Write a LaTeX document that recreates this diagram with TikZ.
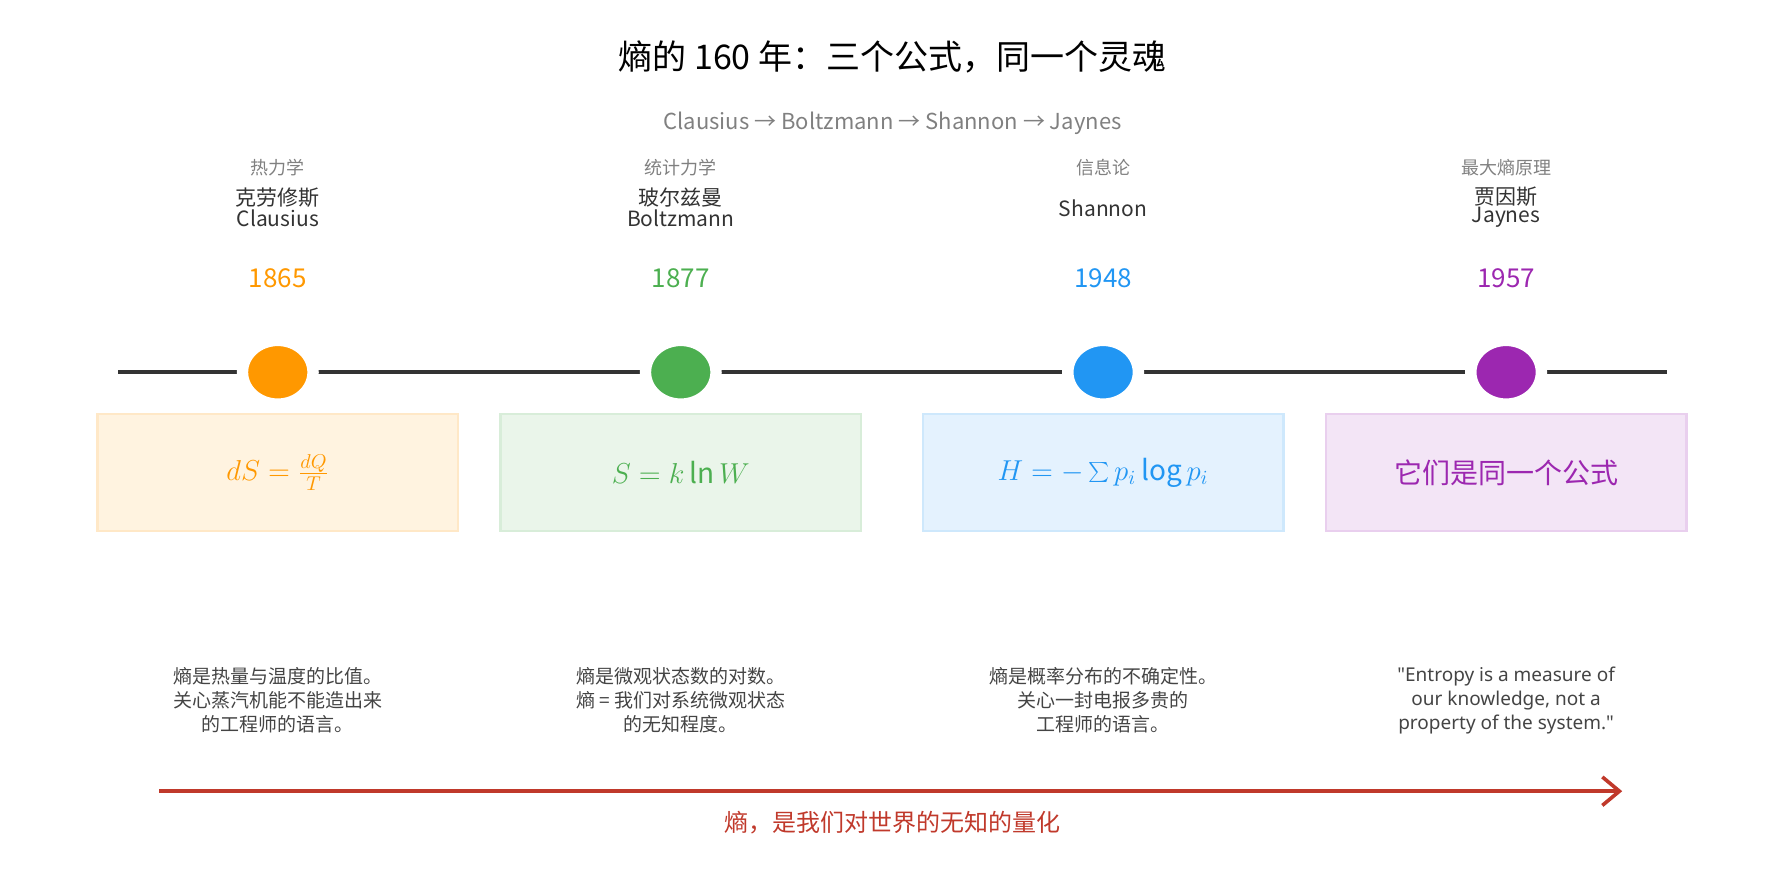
\documentclass[tikz,border=0pt]{standalone}
\usepackage{fontspec}
\setmainfont{Noto Sans CJK SC}
\newfontfamily\quotefont{Noto Sans}
\usetikzlibrary{positioning, shapes.geometric, arrows.meta}
\definecolor{thermo}{HTML}{FF9800}
\definecolor{stat}{HTML}{4CAF50}
\definecolor{info}{HTML}{2196F3}
\definecolor{maxent}{HTML}{9C27B0}
\definecolor{axis}{HTML}{333333}
\definecolor{note}{HTML}{444444}
\definecolor{arrowred}{HTML}{C0392B}
\begin{document}
\begin{tikzpicture}[x=0.02cm, y=-0.02cm]
    \tikzset{
      era/.style={font=\fontsize{9}{10}\selectfont, text=gray},
      who/.style={font=\fontsize{10.5}{9}\selectfont, text=axis, align=center},
      year/.style={font=\fontsize{13}{14}\selectfont},
      dot/.style={ellipse, minimum width=1.24cm, minimum height=1.12cm, inner sep=0pt, draw=white, line width=5.7pt},
      card/.style={rectangle, minimum width=6.34cm, minimum height=2.06cm, line width=1.2pt},
      blurb/.style={font=\fontsize{9.5}{12}\selectfont, text=note, align=center},
    }
    \useasboundingbox (0,0) rectangle (1568,777);
    \node (title) at (784,50) {\fontsize{17}{20}\selectfont 熵的 160 年：三个公式，同一个灵魂};
    \node (sub) at (784,108) [text=gray, font=\fontsize{11}{12}\selectfont] {Clausius → Boltzmann → Shannon → Jaynes};
    \coordinate (L) at (104,327);
    \coordinate (R) at (1464,327);
    \draw [axis, line width=2pt] (L) -- (R);
    \foreach \i/\x/\c/\cat/\who/\yr/\f/\d in {
        1/244/thermo/热力学/{克劳修斯\\Clausius}/1865/{$dS=\frac{dQ}{T}$}/{熵是热量与温度的比值。\\关心蒸汽机能不能造出来\\的工程师的语言。},
        2/598/stat/统计力学/{玻尔兹曼\\Boltzmann}/1877/{$S=k\ln W$}/{熵是微观状态数的对数。\\熵 = 我们对系统微观状态\\的无知程度。},
        3/969/info/信息论/{\\Shannon}/1948/{$H=-\sum p_i\log p_i$}/{熵是概率分布的不确定性。\\关心一封电报多贵的\\工程师的语言。},
        4/1323/maxent/最大熵原理/{贾因斯\\Jaynes}/1957/{它们是同一个公式}/{\quotefont "Entropy is a measure of\\\quotefont our knowledge, not a\\\quotefont property of the system."}} {
      \node [era] (era\i) at (\x,147) {\cat};
      \node [who] (who\i) at (\x,182) {\who};
      \node [year, text=\c] (yr\i) at (\x,244) {\yr};
      \node [dot, fill=\c] (dot\i) at (\x,327) {};
      \node [card, fill=\c!12, draw=\c!22, text=\c, font=\fontsize{14}{16}\selectfont] (card\i) at (\x,415) {\f};
      \node [blurb] (note\i) at (\x,615) {\d};
    }
    \coordinate (start) at (140,695);
    \coordinate (end) at (1425,695);
    \draw [arrowred, line width=1.8pt, -{Straight Barb[length=3mm, width=5mm]}] (start) -- (end);
    \node [text=arrowred, font=\fontsize{12}{14}\selectfont] (moral) at (784,723) {熵，是我们对世界的无知的量化};
  \end{tikzpicture}
\end{document}
